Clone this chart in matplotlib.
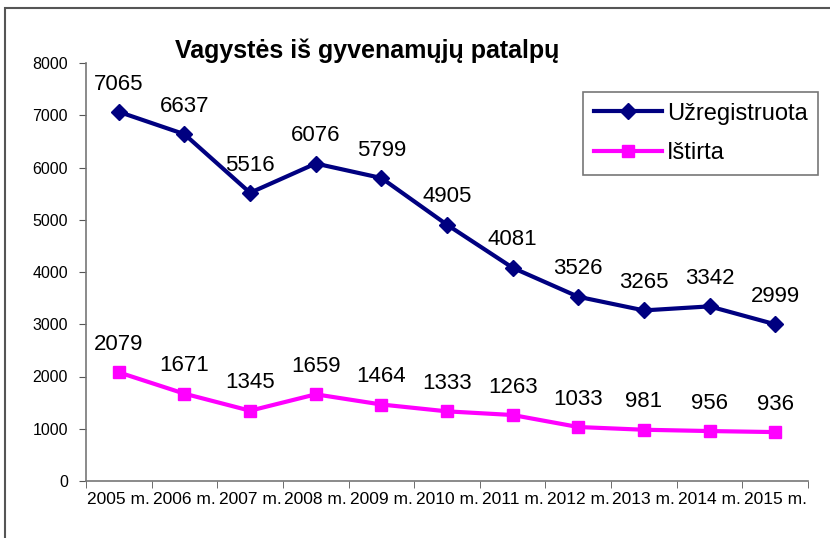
import matplotlib
matplotlib.use("Agg")
import matplotlib.pyplot as plt
from matplotlib.patches import Rectangle
import numpy as np

years = ["2005 m.", "2006 m.", "2007 m.", "2008 m.", "2009 m.", "2010 m.",
         "2011 m.", "2012 m.", "2013 m.", "2014 m.", "2015 m."]
registered = [7065, 6637, 5516, 6076, 5799, 4905, 4081, 3526, 3265, 3342, 2999]
solved = [2079, 1671, 1345, 1659, 1464, 1333, 1263, 1033, 981, 956, 936]
yticks = [0, 1000, 2000, 3000, 4000, 5000, 6000, 7000, 8000]

plt.rcParams['font.family'] = ['Liberation Sans', 'DejaVu Sans']

fig = plt.figure(figsize=(8.3, 5.38), dpi=100)
fig.patches.append(Rectangle((5/830, -0.1), 1.2, (538-8)/538 + 0.1, transform=fig.transFigure,
                             fill=False, edgecolor='#555555', linewidth=1.5))
ax = fig.add_axes([86/830, 57/538, (808-86)/830, (481-63)/538])

x = np.arange(len(years))
ax.plot(x, registered, color='#000080', linewidth=3, marker='D', markersize=8,
        label='Užregistruota')
ax.plot(x, solved, color='#FF00FF', linewidth=3, marker='s', markersize=9,
        label='Ištirta')

for xi, v in zip(x, registered):
    ax.annotate(str(v), (xi, v), xytext=(0, 20), textcoords='offset points',
                ha='center', va='center', fontsize=16)
for xi, v in zip(x, solved):
    ax.annotate(str(v), (xi, v), xytext=(0, 20), textcoords='offset points',
                ha='center', va='center', fontsize=16)

ax.set_xlim(-0.5, len(years) - 0.5)
ax.set_ylim(0, 8000)
ax.set_yticks(yticks)
ax.set_yticklabels([str(t) for t in yticks], fontsize=11.5)
ax.set_xticks(x)
ax.set_xticklabels(years, fontsize=12.5)
ax.set_xticks(np.arange(-0.5, len(years)), minor=True)
ax.tick_params(axis='x', which='major', length=0, pad=8)
ax.tick_params(axis='x', which='minor', length=5, direction='out', color='#555555')
ax.tick_params(axis='y', length=5, direction='out', color='#555555', pad=8)
for s in ['top', 'right']:
    ax.spines[s].set_visible(False)
for s in ['left', 'bottom']:
    ax.spines[s].set_color('#777777')
    ax.spines[s].set_linewidth(1.2)

fig.text(367/830, 1 - 58/538, 'Vagystės iš gyvenamųjų patalpų', ha='center', va='baseline',
         fontsize=18, fontweight='bold')

leg = fig.legend(loc='upper left', bbox_to_anchor=(583/830, 1 - 92/538),
                 bbox_transform=fig.transFigure, borderaxespad=0,
                 fontsize=17, frameon=True, fancybox=False, edgecolor='#555555',
                 handlelength=2.9, handletextpad=0.2, borderpad=0.45, labelspacing=0.75)
leg.get_frame().set_linewidth(1.2)

fig.savefig('out.png', dpi=100)
